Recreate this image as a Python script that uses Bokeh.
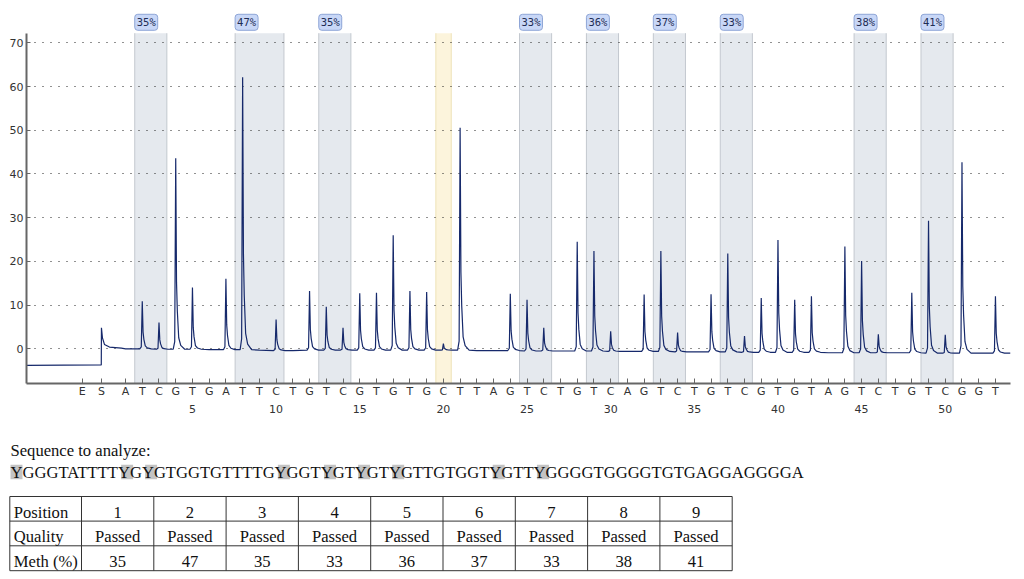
from bokeh.plotting import figure
from bokeh.models import Range1d, FixedTicker, LinearAxis, Label
from bokeh.layouts import column
from bokeh.embed import file_html
from bokeh.resources import INLINE
from bokeh.core.properties import value

# ---------------- data ----------------
dispensation = list("ATCGTGATTC" "TGTCGTGTGC" "TTAGTCTGTC" "AGTCTGTCGT" "GTAGTCTGTC" "GGT")
peak_heights = [0, 10.9, 6.1, 43.7, 14.1, 0, 16.2, 62.3, 0, 7.1,
                0, 13.5, 9.9, 5.1, 13.0, 13.1, 26.3, 13.5, 13.3, 1.5,
                50.9, 0, 0, 13.0, 11.7, 5.3, 0, 25.0, 22.9, 4.6,
                0, 13.0, 23.0, 4.4, 0, 13.2, 22.5, 3.7, 12.4, 25.7,
                12.0, 12.8, 0, 24.3, 21.0, 4.2, 0, 13.7, 30.3, 4.2,
                43.7, 0, 13.0]
baseline = [0.0, 0.0, -0.1, -0.1, -0.1, -0.2, -0.2, -0.2, -0.3, -0.4,
            -0.4, -0.3, -0.3, -0.3, -0.3, -0.3, -0.3, -0.3, -0.3, -0.3,
            -0.3, -0.4, -0.4, -0.4, -0.5, -0.5, -0.5, -0.5, -0.5, -0.6,
            -0.6, -0.6, -0.6, -0.7, -0.7, -0.7, -0.7, -0.8, -0.8, -0.8,
            -0.8, -0.8, -0.9, -0.9, -0.9, -0.9, -0.9, -0.9, -1.0, -1.0,
            -1.0, -1.0, -1.0]
pre_labels = ["E", "S"]
pre_pos = [-1.59, -0.44]
level_before_S = -3.8
S_peak = 4.8
end_level = -1.0

cpg_first = [2, 8, 13, 25, 29, 33, 37, 45, 49]
cpg_last = [3, 10, 14, 26, 30, 34, 38, 46, 50]
meth_pct = [35, 47, 35, 33, 36, 37, 33, 38, 41]
control_disp = [20]

y_ticks = [0, 10, 20, 30, 40, 50, 60, 70]
num_ticks = [5, 10, 15, 20, 25, 30, 35, 40, 45, 50]

sequence = "YGGGTATTTTYGYGTGGTGTTTTGYGGTYGTYGTYGTTGTGGTYGTTYGGGGTGGGGTGTGAGGAGGGGA"
table_rows = ["Position", "Quality", "Meth (%)"]
positions = ["1", "2", "3", "4", "5", "6", "7", "8", "9"]
quality = ["Passed", "Passed", "Passed", "Passed", "Passed", "Passed", "Passed", "Passed", "Passed"]

# ---------------- chart ----------------
X0, X1 = -4.92, 53.9
Y0, Y1 = -7.94, 76.94
TOP = 72.2
PX = 1 / 16.73  # one pixel in dispensation units

p = figure(width=1024, height=420, x_range=Range1d(X0, X1), y_range=Range1d(Y0, Y1),
           output_backend="svg", toolbar_location=None, x_axis_location=None,
           min_border_left=26, min_border_right=14, min_border_top=12, min_border_bottom=37,
           frame_align=False)
p.outline_line_color = None
p.xgrid.visible = False

# shaded CpG regions
lefts = [f - 0.45 for f in cpg_first]
rights = [l + 0.47 for l in cpg_last]
p.quad(left=lefts, right=rights, bottom=Y0, top=TOP, fill_color="#e5e9ee",
       line_color=None, level="image")
p.segment(x0=lefts + rights, y0=Y0, x1=lefts + rights, y1=TOP,
          line_color="#c3c8cf", line_width=1, level="image")
cl = [c - 0.45 for c in control_disp]
cr = [c + 0.47 for c in control_disp]
p.quad(left=cl, right=cr, bottom=Y0, top=TOP, fill_color="#fcf4dc",
       line_color=None, level="image")
p.segment(x0=cl + cr, y0=Y0, x1=cl + cr, y1=TOP,
          line_color="#eee2b8", line_width=1, level="image")

# trace
offs = [-2.5, -1.0, 0.0, 0.8, 1.6, 3.0, 5.0, 9.0]
fracs = [0.0, 0.04, 1.0, 0.35, 0.2, 0.06, 0.02, 0.0]
S = pre_pos[1]
tx = [X0, S - 0.01, S, S + 1 * PX, S + 3 * PX, S + 8 * PX, S + 20 * PX]
ty = [level_before_S, level_before_S + 0.1, S_peak, 2.5, 1.0, 0.4, 0.15]
for i, h in enumerate(peak_heights):
    n = i + 1
    bl = baseline[i]
    if h <= 0:
        tx.append(n)
        ty.append(bl)
        continue
    for o, f in zip(offs, fracs):
        tx.append(n + o * PX)
        ty.append(bl + f * h)
tx.append(X1)
ty.append(end_level)
p.line(tx, ty, line_color="#16296b", line_width=1.2)

# y axis
p.yaxis.ticker = FixedTicker(ticks=y_ticks)
p.ygrid.ticker = FixedTicker(ticks=y_ticks)
p.yaxis.bounds = (Y0, TOP)
p.yaxis.axis_line_color = "#666666"
p.yaxis.axis_line_width = 2
p.yaxis.major_tick_in = 4
p.yaxis.major_tick_out = 0
p.yaxis.major_tick_line_color = "#666666"
p.yaxis.minor_tick_line_color = None
p.yaxis.major_label_standoff = 3
p.yaxis.major_label_text_font = "DejaVu Sans"
p.yaxis.major_label_text_font_size = "11px"
p.yaxis.major_label_text_color = "#333333"
p.ygrid.grid_line_color = "#222222"
p.ygrid.grid_line_dash = "1 7"
p.ygrid.grid_line_width = 1

# x axes: dispensation letters and numbers
tick_pos = pre_pos + list(range(1, len(dispensation) + 1))
overrides = {pos: lab for pos, lab in zip(tick_pos, pre_labels + dispensation)}
ax1 = LinearAxis(ticker=FixedTicker(ticks=tick_pos), major_label_overrides=overrides,
                 axis_line_color="#666666", axis_line_width=2,
                 major_tick_in=5, major_tick_out=0, major_tick_line_color="#666666",
                 minor_tick_line_color=None, major_label_standoff=1,
                 major_label_text_font="DejaVu Sans", major_label_text_font_size="11px",
                 major_label_text_color="#333333")
p.add_layout(ax1, "below")
ax2 = LinearAxis(ticker=FixedTicker(ticks=num_ticks), axis_line_color=None,
                 major_tick_line_color=None, minor_tick_line_color=None,
                 major_label_standoff=-2, major_label_text_font="DejaVu Sans",
                 major_label_text_font_size="11px", major_label_text_color="#333333")
p.add_layout(ax2, "below")

# percentage labels
for l, m in zip(lefts, meth_pct):
    p.add_layout(Label(x=l, y=74.7, text=f"{m}%", text_align="left", text_baseline="middle",
                       text_font="DejaVu Sans Mono", text_font_size="10.5px", text_color="#1f2d55",
                       background_fill_color="#c8d7f7", border_line_color="#8ea5d6",
                       padding=2, border_radius=3))

# ---------------- bottom text and table (page pixel coordinates) ----------------
b = figure(width=1024, height=159, x_range=Range1d(0, 1024), y_range=Range1d(159, 0),
           output_backend="svg", toolbar_location=None, x_axis_location=None,
           y_axis_location=None, min_border_left=0, min_border_right=0,
           min_border_top=0, min_border_bottom=0, frame_align=False)
b.outline_line_color = None
b.grid.visible = False

FS = 16.6
FSS = "16.6px"
TXT_SHIFT = -6.0
adv = {"G": 0.722, "T": 0.611, "Y": 0.722, "A": 0.722, "C": 0.667}
xs = 10.0
hl_l, hl_r = [], []
for ch in sequence:
    w = adv[ch] * FS
    if ch == "Y":
        hl_l.append(xs)
        hl_r.append(xs + w)
    xs += w
b.quad(left=hl_l, right=hl_r, top=44.3, bottom=58.7, fill_color="#c3c3c3", line_color=None)

serif = value("Liberation Serif")
b.text(x=[10], y=[36 + TXT_SHIFT], text=["Sequence to analyze:"], text_font=serif,
       text_font_size=FSS, text_baseline="alphabetic", text_color="#111111")
b.text(x=[10], y=[57.7 + TXT_SHIFT], text=[sequence], text_font=serif, text_font_size=FSS,
       text_baseline="alphabetic", text_color="#111111")

edges = [9.3] + [81.0 + 72.3 * k for k in range(len(positions) + 1)]
row_lines = [76.0, 100.6, 125.3, 150.2]
b.segment(x0=edges[0], y0=row_lines, x1=edges[-1], y1=row_lines, line_color="#333333", line_width=1)
b.segment(x0=edges, y0=row_lines[0], x1=edges, y1=row_lines[-1], line_color="#333333", line_width=1)

baselines = [97.7 + TXT_SHIFT, 122.0 + TXT_SHIFT, 147.0 + TXT_SHIFT]
b.text(x=[13.3] * 3, y=baselines, text=table_rows, text_font=serif, text_font_size=FSS,
       text_baseline="alphabetic", text_color="#111111")
centers = [(edges[k] + edges[k + 1]) / 2 for k in range(1, len(edges) - 1)]
for row_vals, yb in zip([positions, quality, [str(m) for m in meth_pct]], baselines):
    b.text(x=centers, y=[yb] * len(centers), text=row_vals, text_font=serif,
           text_font_size=FSS, text_align="center", text_baseline="alphabetic",
           text_color="#111111")

layout = column(p, b, spacing=0)
open("out.html", "w").write(file_html(layout, INLINE))
